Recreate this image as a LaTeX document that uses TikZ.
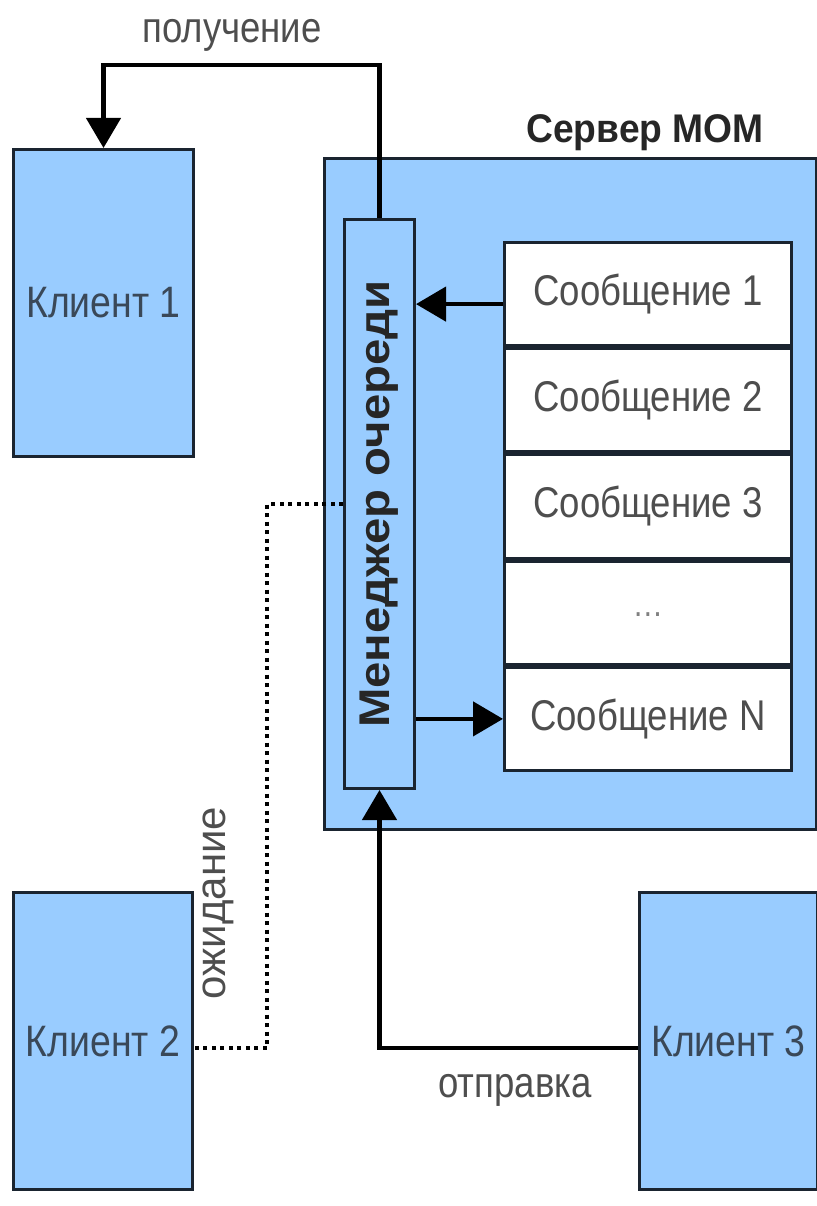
\documentclass[tikz,border=0pt]{standalone}
\usepackage{fontspec}
\setmainfont{Liberation Sans}
\newfontfamily\hfont[FakeStretch=0.85]{Liberation Sans}
\newfontfamily\sfont[FakeStretch=0.93]{Liberation Sans}
\newfontfamily\mfont[FakeStretch=1.1]{Liberation Sans}
\usetikzlibrary{arrows.meta}
\definecolor{boxblue}{RGB}{153,204,255}
\definecolor{boxline}{RGB}{26,36,48}
\definecolor{txtgray}{RGB}{78,78,78}
\definecolor{clitxt}{RGB}{58,72,88}
\tikzset{
  boxnode/.style={draw=boxline, line width=3pt, fill=boxblue, inner sep=0pt, anchor=north west},
  msgbox/.style={draw=boxline, line width=3pt, fill=white, inner sep=0pt, anchor=north west,
    minimum width=287pt, minimum height=103.2pt, text=txtgray, font=\hfont\fontsize{43}{50}\selectfont},
  clitext/.style={text=clitxt, font=\hfont\fontsize{44}{50}\selectfont},
  lbl/.style={text=txtgray, font=\hfont\fontsize{43}{50}\selectfont, inner sep=0pt},
  conn/.style={line width=4.5pt, draw=black, -{Triangle[length=30pt,width=34pt]}},
  dotline/.style={line width=4.5pt, draw=black, dash pattern=on 4pt off 4.5pt}
}
\begin{document}
\begin{tikzpicture}[x=1pt, y=-1pt]
\useasboundingbox (0,0) rectangle (816,1206);
% clients
\node[boxnode, clitext, minimum width=180pt, minimum height=307pt] (c1) at (12,148) {Клиент 1\hspace{10pt}};
\node[boxnode, clitext, minimum width=179pt, minimum height=297pt] (c2) at (12,891) {Клиент 2\hspace{6pt}};
\node[boxnode, clitext, minimum width=178pt, minimum height=297pt] (c3) at (638,891) {Клиент 3\hspace{8pt}};
% server
\node[boxnode, minimum width=492pt, minimum height=671pt] (srv) at (323,157) {};
\node[anchor=base, inner sep=0pt, text=black!85, font=\sfont\bfseries\fontsize{40}{48}\selectfont] (srvlbl) at (645,143) {Сервер МОМ};
% manager
\node[boxnode, minimum width=70pt, minimum height=569pt] (mgr) at (343,218) {};
\node[rotate=90, inner sep=0pt, text=black!85, font=\mfont\bfseries\fontsize{43}{48}\selectfont] (mgrtxt) at (mgr.center) {Менеджер очереди};
% messages
\node[msgbox] (m1) at (503,241) {Сообщение 1\hspace{6pt}};
\node[msgbox] (m2) at (m1.south west) {Сообщение 2\hspace{6pt}};
\node[msgbox] (m3) at (m2.south west) {Сообщение 3\hspace{6pt}};
\node[msgbox, font=\hfont\fontsize{36}{40}\selectfont, text=gray] (m4) at (m3.south west) {\raisebox{-8pt}{…}};
\node[msgbox] (mN) at (m4.south west) {Сообщение N\hspace{6pt}};
% connectors
\coordinate (topline) at (0,65);
\draw[conn] (mgr.north) -- (mgr.north |- topline) -| (c1.north);
\coordinate (m1w) at ([yshift=-10pt]m1.west);
\draw[conn] (m1w) -- (mgr.east |- m1w);
\draw[conn] (mgr.east |- mN.west) -- (mN.west);
\coordinate (waitx) at (267,0);
\coordinate (c2e) at ([yshift=-7pt]c2.east);
\draw[dotline] (mgr.west) -- (waitx |- mgr.west) -- (waitx |- c2e) -- (c2e);
\coordinate (c3w) at ([yshift=-7pt]c3.west);
\draw[conn] (c3w) -| (mgr.south);
% labels
\node[lbl, anchor=base] (lget) at (232,43) {получение};
\node[lbl, anchor=base] (lsend) at (515,1097) {отправка};
\node[lbl, anchor=base, rotate=90, font=\fontsize{42}{48}\selectfont] (lwait) at (225,903) {ожидание};
\end{tikzpicture}
\end{document}
